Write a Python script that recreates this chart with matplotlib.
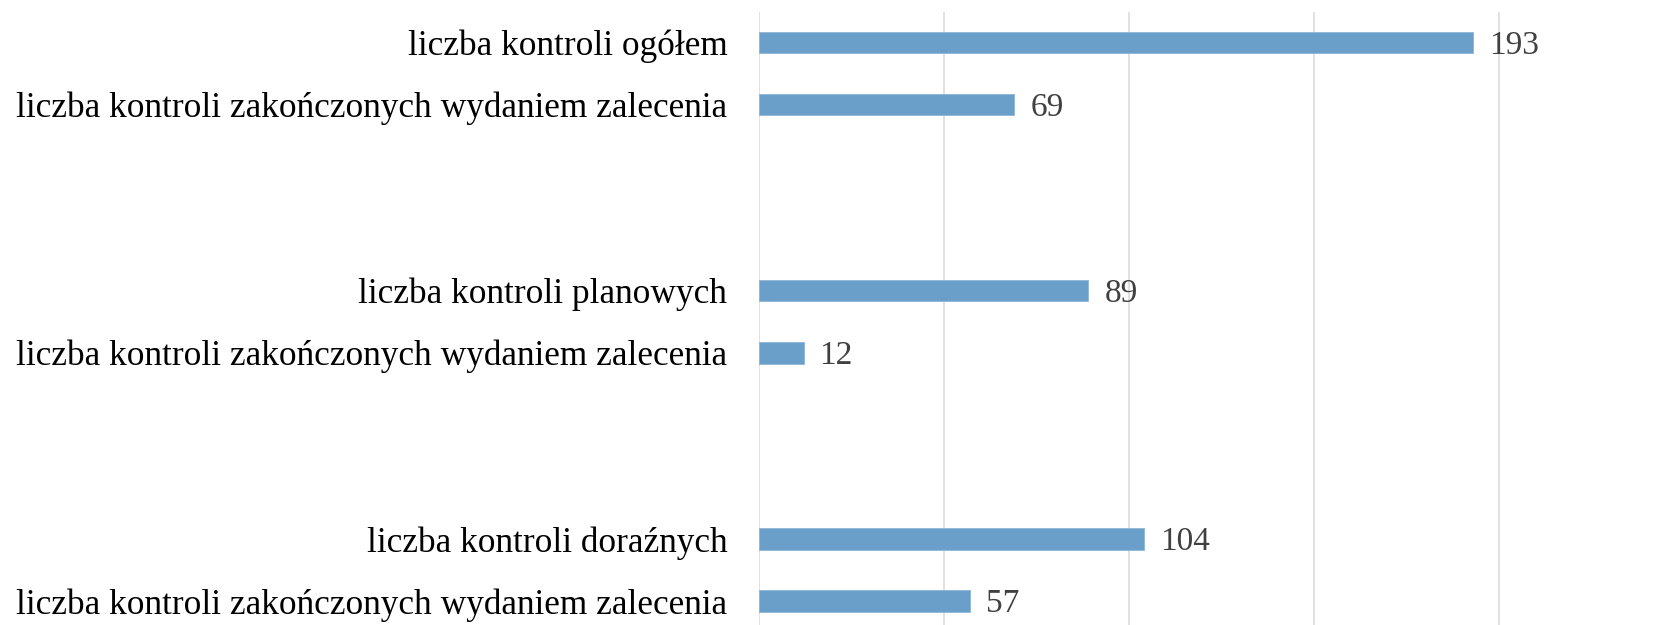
import matplotlib
matplotlib.use("Agg")
import matplotlib.pyplot as plt

categories = [
    "liczba kontroli ogółem",
    "liczba kontroli zakończonych wydaniem zalecenia",
    "liczba kontroli planowych",
    "liczba kontroli zakończonych wydaniem zalecenia",
    "liczba kontroli doraźnych",
    "liczba kontroli zakończonych wydaniem zalecenia",
]
values = [193, 69, 89, 12, 104, 57]
group_of = [0, 0, 1, 1, 2, 2]
index_in_group = [0, 1, 0, 1, 0, 1]
grid_ticks = [0, 50, 100, 150, 200]

positions = [g * 4 + i for g, i in zip(group_of, index_in_group)]

W, H, DPI = 1669, 625, 100
fig = plt.figure(figsize=(W / DPI, H / DPI), dpi=DPI)
ax = fig.add_axes([759.2 / W, 0.0, 1 - 759.2 / W, 1 - 12 / H])

bar_color = "#6A9FCA"
ax.barh(positions, values, height=0.35, color=bar_color, edgecolor="#8DB6DA", linewidth=0.6, zorder=2)

ax.set_xticks(grid_ticks)
ax.set_xticklabels([])
ax.tick_params(axis="x", length=0)
ax.grid(axis="x", color="#D9D9D9", linewidth=1.1, zorder=0)
ax.set_axisbelow(True)

ax.set_yticks(positions)
ax.set_yticklabels(categories, fontfamily="Liberation Serif", fontsize=25.4, color="black")
ax.tick_params(axis="y", length=0, pad=23)

ax.set_xlim(0, (W - 759.2) / 3.699)
ax.set_ylim(9 + (H - 600.9) / 62.0, -0.49)

for s in ax.spines.values():
    s.set_visible(False)

for p, v in zip(positions, values):
    ax.annotate(str(v), xy=(v, p), xytext=(11.5, -8.0), textcoords="offset points",
                va="baseline", ha="left", fontfamily="Liberation Serif", fontsize=24,
                color="#404040")

fig.savefig("out.png", dpi=DPI)
